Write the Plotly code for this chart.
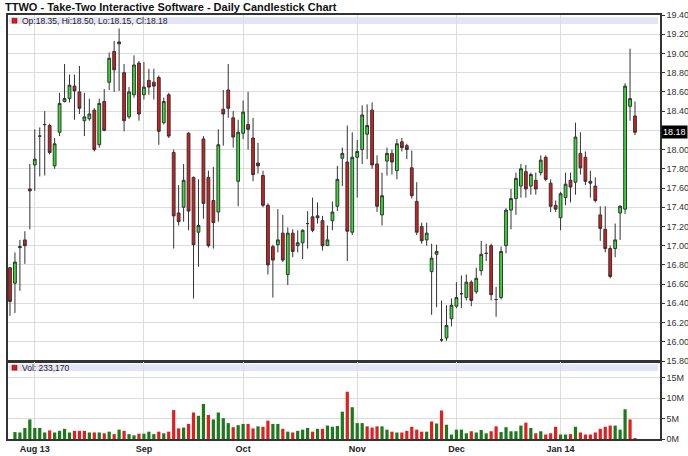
import pandas as pd
import plotly.graph_objects as go

# ---------------- data ----------------
holidays = ["2013-09-02", "2013-11-28", "2013-12-25", "2014-01-01", "2014-01-20"]
days = [d.strftime("%Y-%m-%d") for d in pd.bdate_range("2013-07-25", "2014-01-24")
        if d.strftime("%Y-%m-%d") not in holidays]

opens = [16.77, 16.61, 16.98, 17.06, 17.59, 17.84, 18.14, 18.26, 18.25, 17.83,
         18.18, 18.50, 18.53, 18.66, 18.60, 18.30, 18.32, 18.41, 18.05, 18.50,
         18.70, 19.02, 19.12, 18.80, 18.34, 18.57, 18.90, 18.57, 18.72, 18.70,
         18.75, 18.28, 18.57, 17.97, 17.34, 17.40, 18.17, 17.71, 17.14, 18.11,
         17.71, 17.47, 17.35, 18.42, 18.62, 18.33, 17.67, 18.17, 18.26, 18.12,
         17.86, 17.73, 17.42, 16.99, 17.01, 17.13, 16.70, 17.13, 17.00, 17.03,
         17.23, 17.30, 17.31, 17.26, 17.00, 17.26, 17.41, 17.91, 17.87, 17.14,
         17.92, 18.00, 18.16, 18.41, 17.85, 17.32, 17.88, 17.96, 17.78, 18.08,
         18.04, 17.81, 17.46, 17.20, 17.06, 16.73, 16.91, 16.02, 16.04, 16.24,
         16.37, 16.50, 16.46, 16.62, 16.52, 16.74, 16.92, 17.00, 16.44, 16.46,
         17.00, 17.37, 17.49, 17.62, 17.77, 17.62, 17.68, 17.76, 17.92, 17.65,
         17.42, 17.29, 17.50, 17.68, 17.66, 17.96, 17.92, 17.67, 17.62, 17.32,
         17.17, 16.97, 16.97, 17.34, 17.38, 18.45, 18.35]
highs = [16.78, 16.93, 17.06, 17.15, 17.85, 18.21, 18.23, 18.40, 18.27, 18.12,
         18.59, 18.89, 18.78, 18.78, 18.87, 18.59, 18.53, 18.43, 18.53, 18.63,
         19.01, 19.13, 19.26, 18.89, 18.65, 18.98, 18.92, 18.91, 18.84, 18.84,
         18.77, 18.54, 18.59, 18.00, 17.63, 17.85, 18.18, 17.72, 17.69, 18.14,
         17.78, 17.82, 18.21, 18.62, 18.89, 18.40, 18.31, 18.51, 18.60, 18.33,
         18.07, 17.78, 17.44, 17.01, 17.38, 17.32, 17.19, 17.17, 17.16, 17.17,
         17.36, 17.50, 17.45, 17.31, 17.21, 17.46, 17.83, 18.02, 18.25, 18.18,
         18.10, 18.46, 18.47, 18.49, 17.94, 17.76, 18.02, 18.00, 18.11, 18.12,
         18.06, 17.99, 17.66, 17.24, 17.24, 17.02, 17.01, 16.43, 16.38, 16.45,
         16.62, 16.69, 16.70, 16.64, 16.77, 17.05, 17.02, 17.02, 16.57, 16.99,
         17.39, 17.59, 17.76, 17.85, 17.84, 17.76, 17.76, 17.94, 17.94, 17.69,
         17.47, 17.56, 17.76, 17.76, 18.28, 18.18, 17.98, 17.78, 17.71, 17.41,
         17.41, 17.00, 17.23, 17.42, 18.69, 19.05, 18.50]
lows = [16.27, 16.30, 16.53, 16.81, 17.17, 17.57, 17.72, 17.73, 17.95, 17.80,
        18.14, 18.49, 18.49, 18.31, 18.37, 18.14, 18.30, 17.98, 18.02, 18.19,
        18.62, 18.60, 18.61, 18.19, 18.32, 18.54, 18.30, 18.52, 18.57, 18.52,
        18.05, 18.26, 18.12, 16.97, 17.21, 17.25, 17.16, 16.45, 16.78, 17.28,
        16.98, 16.97, 17.25, 18.04, 18.33, 18.02, 17.41, 18.11, 18.00, 17.67,
        17.75, 17.40, 16.70, 16.46, 16.93, 16.83, 16.59, 16.88, 16.93, 16.86,
        16.97, 17.14, 17.23, 16.95, 17.00, 17.16, 17.36, 17.62, 16.84, 17.11,
        17.50, 17.85, 17.90, 17.80, 17.35, 17.21, 17.73, 17.74, 17.69, 17.98,
        17.90, 17.49, 17.11, 17.02, 17.00, 16.28, 16.36, 16.00, 16.01, 16.16,
        16.35, 16.35, 16.43, 16.37, 16.50, 16.69, 16.84, 16.43, 16.26, 16.44,
        16.92, 17.17, 17.32, 17.50, 17.50, 17.53, 17.53, 17.73, 17.67, 17.35,
        17.35, 17.16, 17.42, 17.45, 17.53, 17.74, 17.63, 17.50, 17.45, 17.05,
        16.93, 16.66, 16.88, 17.06, 17.33, 18.30, 18.15]
closes = [16.42, 16.83, 16.99, 17.00, 17.57, 17.90, 18.14, 18.26, 17.97, 18.06,
          18.48, 18.53, 18.67, 18.61, 18.43, 18.34, 18.37, 18.00, 18.48, 18.20,
          18.95, 18.83, 19.10, 18.30, 18.60, 18.88, 18.37, 18.65, 18.65, 18.66,
          18.19, 18.50, 18.14, 17.31, 17.25, 17.68, 17.36, 17.01, 17.21, 17.44,
          17.00, 17.24, 18.05, 18.37, 18.43, 18.13, 18.18, 18.39, 18.21, 17.74,
          17.83, 17.42, 16.80, 16.85, 17.06, 16.85, 17.13, 16.94, 17.03, 17.16,
          17.23, 17.16, 17.29, 17.00, 17.06, 17.35, 17.69, 17.96, 17.15, 17.92,
          17.98, 18.36, 18.25, 17.84, 17.41, 17.52, 17.96, 17.87, 18.06, 18.02,
          18.00, 17.52, 17.14, 17.05, 17.13, 16.87, 16.94, 16.02, 16.17, 16.38,
          16.46, 16.50, 16.62, 16.43, 16.66, 16.91, 16.92, 16.49, 16.44, 16.94,
          17.37, 17.49, 17.70, 17.80, 17.59, 17.74, 17.59, 17.89, 17.69, 17.41,
          17.38, 17.54, 17.64, 17.61, 18.13, 17.81, 17.67, 17.65, 17.47, 17.18,
          16.97, 16.68, 17.06, 17.41, 18.66, 18.53, 18.18]
volumes_m = [None, 1.7, 1.6, 2.7, 4.8, 2.7, 2.7, 1.6, 2.1, 1.6,
             2.0, 2.5, 1.6, 2.0, 2.0, 2.0, 1.6, 1.6, 1.6, 1.4,
             1.8, 1.2, 2.3, 2.0, 1.2, 0.9, 1.3, 1.3, 1.8, 1.2,
             1.8, 1.4, 1.8, 7.1, 2.6, 2.8, 3.7, 6.5, 5.7, 8.6,
             5.9, 4.8, 6.5, 5.1, 3.9, 2.9, 3.4, 3.7, 3.7, 2.6,
             3.1, 3.0, 4.5, 3.7, 3.7, 2.5, 1.8, 1.6, 2.0, 2.3,
             2.7, 1.8, 2.5, 2.5, 3.3, 3.0, 3.2, 6.7, 11.6, 7.8,
             3.9, 3.9, 3.1, 2.8, 3.1, 3.1, 2.3, 1.8, 1.6, 1.6,
             2.0, 3.0, 2.3, 1.8, 1.8, 4.3, 3.8, 7.0, 3.5, 1.1,
             2.3, 2.3, 1.4, 1.9, 1.6, 2.2, 1.4, 1.9, 3.1, 1.7,
             2.9, 1.9, 1.9, 3.3, 4.0, 2.7, 1.4, 1.9, 1.1, 1.4,
             3.0, 1.1, 1.1, 1.2, 3.0, 1.6, 1.1, 1.1, 1.6, 2.5,
             3.0, 3.3, 3.3, 2.3, 7.3, 4.8, 0.23317]
month_ticks = ["2013-08-01", "2013-09-03", "2013-10-01", "2013-11-01", "2013-12-02", "2014-01-02"]
month_labels = ["Aug 13", "Sep", "Oct", "Nov", "Dec", "Jan 14"]
price_ticks = [15.8 + 0.2 * k for k in range(19)]
vol_ticks = [0, 5e6, 10e6, 15e6]
vol_labels = ["0M", "5M", "10M", "15M"]
last = dict(op=18.35, hi=18.50, lo=18.15, cl=18.18, vol="233,170")

# ---------------- figure ----------------
volumes = [None if v is None else v * 1e6 for v in volumes_m]
vol_colors = ["#1c7a1c"] + ["#1c7a1c" if closes[i] >= closes[i - 1] else "#e02020"
                            for i in range(1, len(closes))]

FONT = "Liberation Sans, Arial, sans-serif"
fig = go.Figure()
fig.add_trace(go.Candlestick(
    x=days, open=opens, high=highs, low=lows, close=closes,
    increasing=dict(fillcolor="#2fe22f", line=dict(color="#333333", width=1)),
    decreasing=dict(fillcolor="#d81c1c", line=dict(color="#333333", width=1)),
    whiskerwidth=0, xaxis="x", yaxis="y", hoverinfo="skip", showlegend=False))
fig.add_trace(go.Bar(
    x=days, y=volumes, marker=dict(color=vol_colors, line=dict(width=0)),
    xaxis="x2", yaxis="y2", hoverinfo="skip", showlegend=False))

L, R, T, B = 8, 28, 15, 17
H = 456 - T - B


def py(Y):
    return (456 - B - Y) / H


def px(X):
    return (X - L) / (688 - L - R)


n = len(days)
xr = [-0.4, n - 1 + 5.04]
tick_text = ["" if abs(v - 18.2) < 1e-6 else f"{v:.2f}" for v in price_ticks]

axis_common = dict(showline=True, mirror=True, linecolor="#333333", linewidth=1.5,
                   gridcolor="#dcdcdc", gridwidth=1, zeroline=False, fixedrange=True,
                   automargin=False)
fig.update_layout(
    width=688, height=456, margin=dict(l=L, r=R, t=T, b=B, autoexpand=False),
    paper_bgcolor="white", plot_bgcolor="white", showlegend=False,
    boxgap=0.2, bargap=0.35,
    font=dict(family=FONT, color="#222222"),
    title=dict(text="<b>TTWO - Take-Two Interactive Software - Daily Candlestick Chart</b>",
               x=5 / 688, xanchor="left", xref="container",
               y=1 - 7.5 / 456, yanchor="middle", yref="container", automargin=False,
               font=dict(family=FONT, size=11, color="#111111")),
    xaxis=dict(type="category", range=xr, domain=[0, 1], anchor="y",
               tickvals=month_ticks, ticktext=month_labels, showticklabels=False,
               ticks="", showgrid=True, rangeslider=dict(visible=False), **axis_common),
    yaxis=dict(domain=[py(361), 1], range=[15.8, 19.4], side="right", anchor="x",
               tickvals=price_ticks, ticktext=tick_text, ticks="outside", ticklen=3,
               tickcolor="#333333", tickfont=dict(size=9, color="#333333"),
               showgrid=True, **axis_common),
    xaxis2=dict(type="category", range=xr, domain=[0, 1], anchor="y2", matches="x",
                tickvals=month_ticks, ticktext=[f"<b>{t}</b>" for t in month_labels],
                ticks="", tickfont=dict(size=9, color="#222222", family=FONT),
                showgrid=True, **axis_common),
    yaxis2=dict(domain=[0, py(362)], range=[0, 18.9e6], side="right", anchor="x2",
                tickvals=vol_ticks, ticktext=vol_labels, ticks="outside", ticklen=3,
                tickcolor="#333333", tickfont=dict(size=9, color="#333333"),
                showgrid=True, **axis_common),
)

# legend bands
shapes = []
for y0, y1 in [(24, 17.3), (371, 364.3)]:
    shapes.append(dict(type="rect", xref="paper", yref="paper",
                       x0=px(9), x1=px(658), y0=py(y0), y1=py(y1),
                       fillcolor="#e4e4f7", line=dict(width=0), layer="below"))
for yc in [20.7, 367.7]:
    shapes.append(dict(type="rect", xref="paper", yref="paper",
                       x0=px(12), x1=px(17), y0=py(yc + 2.5), y1=py(yc - 2.5),
                       fillcolor="#d81c1c", line=dict(color="#661111", width=0.5)))
fig.update_layout(shapes=shapes)

fig.add_annotation(xref="paper", yref="paper", x=px(20), y=py(20.7), xanchor="left",
                   yanchor="middle", showarrow=False,
                   text=f"Op:{last['op']:.2f}, Hi:{last['hi']:.2f}, Lo:{last['lo']:.2f}, Cl:{last['cl']:.2f}",
                   font=dict(size=8.5, color="#222222", family=FONT))
fig.add_annotation(xref="paper", yref="paper", x=px(20), y=py(367.7), xanchor="left",
                   yanchor="middle", showarrow=False, text=f"Vol: {last['vol']}",
                   font=dict(size=8.5, color="#222222", family=FONT))
fig.add_annotation(xref="paper", yref="y", x=1, y=last["cl"], xanchor="left", yanchor="middle",
                   xshift=1, showarrow=False, text=f"{last['cl']:.2f}", bgcolor="#000000",
                   borderpad=1, font=dict(size=9, color="white", family=FONT))

fig.write_html("out.html", config={"displayModeBar": False},
               post_script="document.body.style.margin='0';document.body.style.overflow='hidden';")
